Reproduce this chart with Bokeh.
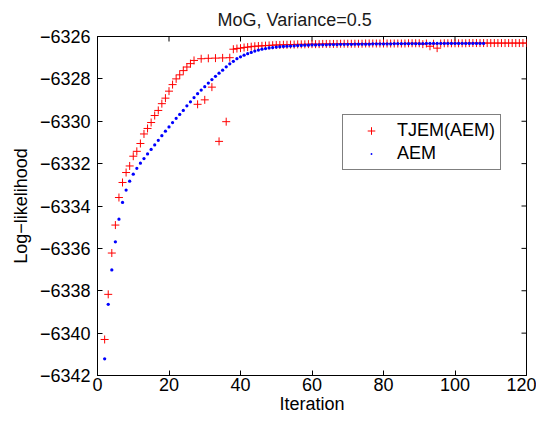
import math
from bokeh.plotting import figure
from bokeh.models import FixedTicker, Range1d, Legend, LegendItem
from bokeh.embed import file_html
from bokeh.resources import INLINE

title_text = "MoG, Variance=0.5"
x_label = "Iteration"
y_label = "Log\u2212likelihood"
series_names = ["TJEM(AEM)", "AEM"]

x_ticks = [0, 20, 40, 60, 80, 100, 120]
y_ticks = [-6342, -6340, -6338, -6336, -6334, -6332, -6330, -6328, -6326]

tjem_iter = list(range(2, 121))
tjem_ll = [
    -6340.30, -6338.17, -6336.22, -6334.90, -6333.60, -6332.89, -6332.42, -6332.11, -6331.65, -6331.42,
    -6331.05, -6330.60, -6330.34, -6330.06, -6329.73, -6329.49, -6329.17, -6328.91, -6328.58, -6328.27,
    -6328.00, -6327.81, -6327.61, -6327.44, -6327.28, -6327.13, -6329.20, -6327.05, -6328.99, -6327.03,
    -6328.39, -6327.02, -6330.95, -6327.01, -6330.02, -6327.00, -6326.60, -6326.57, -6326.55, -6326.52,
    -6326.50, -6326.48, -6326.46, -6326.45, -6326.44, -6326.43, -6326.42, -6326.41, -6326.40, -6326.40,
    -6326.39, -6326.39, -6326.38, -6326.38, -6326.37, -6326.37, -6326.37, -6326.36, -6326.36, -6326.36,
    -6326.36, -6326.35, -6326.35, -6326.35, -6326.35, -6326.35, -6326.34, -6326.34, -6326.34, -6326.34,
    -6326.34, -6326.34, -6326.34, -6326.33, -6326.33, -6326.33, -6326.33, -6326.33, -6326.33, -6326.33,
    -6326.33, -6326.33, -6326.33, -6326.33, -6326.33, -6326.32, -6326.32, -6326.32, -6326.32, -6326.36,
    -6326.33, -6326.46, -6326.34, -6326.55, -6326.33, -6326.32, -6326.32, -6326.32, -6326.32, -6326.32,
    -6326.32, -6326.32, -6326.31, -6326.31, -6326.31, -6326.31, -6326.31, -6326.31, -6326.31, -6326.31,
    -6326.31, -6326.31, -6326.31, -6326.31, -6326.31, -6326.31, -6326.31, -6326.31, -6326.31,
]

aem_iter = list(range(2, 109))
aem_ll = [
    -6341.21, -6338.64, -6337.02, -6335.69, -6334.62, -6333.83, -6333.25, -6332.83, -6332.50, -6332.22,
    -6331.98, -6331.76, -6331.54, -6331.33, -6331.12, -6330.90, -6330.68, -6330.47, -6330.27, -6330.06,
    -6329.86, -6329.68, -6329.49, -6329.27, -6329.08, -6328.88, -6328.70, -6328.53, -6328.37, -6328.20,
    -6328.03, -6327.88, -6327.73, -6327.59, -6327.43, -6327.29, -6327.17, -6327.05, -6326.96, -6326.88,
    -6326.81, -6326.75, -6326.69, -6326.64, -6326.60, -6326.57, -6326.54, -6326.52, -6326.50, -6326.48,
    -6326.47, -6326.46, -6326.45, -6326.44, -6326.43, -6326.42, -6326.41, -6326.41, -6326.40, -6326.40,
    -6326.39, -6326.39, -6326.39, -6326.38, -6326.38, -6326.38, -6326.37, -6326.37, -6326.37, -6326.37,
    -6326.36, -6326.36, -6326.36, -6326.36, -6326.36, -6326.35, -6326.35, -6326.35, -6326.35, -6326.35,
    -6326.35, -6326.34, -6326.34, -6326.34, -6326.34, -6326.34, -6326.34, -6326.34, -6326.34, -6326.34,
    -6326.33, -6326.33, -6326.33, -6326.33, -6326.33, -6326.33, -6326.33, -6326.33, -6326.33, -6326.33,
    -6326.33, -6326.33, -6326.33, -6326.33, -6326.33, -6326.33, -6326.33,
]

FONT = "Liberation Sans"
FS = "18px"

p = figure(width=536, height=416,
           x_range=Range1d(x_ticks[0], x_ticks[-1]),
           y_range=Range1d(y_ticks[0], y_ticks[-1]),
           output_backend="svg", toolbar_location=None,
           min_border_left=97, min_border_right=10,
           min_border_top=34, min_border_bottom=36)

p.title.text = title_text
p.title.text_font = FONT
p.title.text_font_size = FS
p.title.text_font_style = "normal"
p.title.text_color = "#1a1a1a"
p.title.align = "left"
p.title.offset = 120
p.title.standoff = 14

p.grid.visible = False
p.outline_line_color = "black"
p.outline_line_width = 1
p.background_fill_color = "white"
p.border_fill_color = "white"

ylab = {v: "\u2212" + str(abs(v)) for v in y_ticks}

for ax in p.xaxis:
    ax.ticker = FixedTicker(ticks=x_ticks)
    ax.axis_label = x_label
for ax in p.yaxis:
    ax.ticker = FixedTicker(ticks=y_ticks)
    ax.major_label_overrides = ylab
    ax.axis_label = y_label

for ax in list(p.xaxis) + list(p.yaxis):
    ax.major_tick_in = 5
    ax.major_tick_out = 0
    ax.minor_tick_in = 0
    ax.minor_tick_out = 0
    ax.axis_line_color = "black"
    ax.major_tick_line_color = "black"
    ax.major_label_text_font = FONT
    ax.major_label_text_font_size = FS
    ax.major_label_text_color = "black"
    ax.axis_label_text_font = FONT
    ax.axis_label_text_font_size = FS
    ax.axis_label_text_font_style = "normal"
    ax.axis_label_text_color = "black"

p.xaxis.major_label_standoff = 2
p.xaxis.axis_label_standoff = 0
p.yaxis.major_label_standoff = 7
p.yaxis.axis_label_standoff = 6

# mirrored ticks on top and right edges (half of each dash is clipped by the frame)
p.scatter(x_ticks, [y_ticks[-1]] * len(x_ticks), marker="dash", angle=math.pi / 2,
          size=10, line_color="black", line_width=1)
p.scatter([x_ticks[-1]] * len(y_ticks), y_ticks, marker="dash",
          size=10, line_color="black", line_width=1)

r1 = p.scatter(tjem_iter, tjem_ll, marker="cross", size=8, line_color="#ff0000", line_width=1)
r2 = p.scatter(aem_iter, aem_ll, marker="dot", size=13, line_color="#0000ff",
               fill_color="#0000ff")

lg = Legend(items=[LegendItem(label=series_names[0], renderers=[r1]),
                   LegendItem(label=series_names[1], renderers=[r2])])
lg.location = (245, 205)
lg.border_line_color = "black"
lg.border_line_width = 1
lg.background_fill_alpha = 1
lg.label_text_font = FONT
lg.label_text_font_size = FS
lg.label_text_color = "black"
lg.padding = 5
lg.margin = 0
lg.spacing = 2
lg.glyph_width = 46
lg.glyph_height = 19
lg.label_standoff = 3
lg.label_height = 19
p.add_layout(lg, "center")

open("out.html", "w").write(file_html(p, INLINE))
